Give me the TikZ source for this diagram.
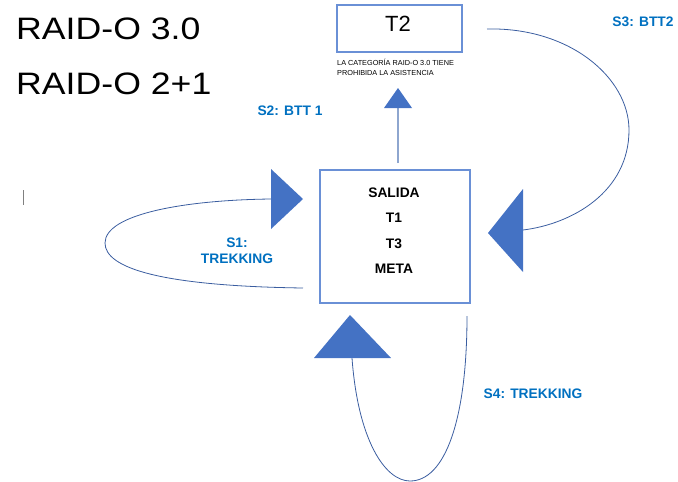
\documentclass[tikz,border=0pt]{standalone}
\usepackage{fontspec}
\setmainfont{Liberation Sans}
\definecolor{trifill}{HTML}{4472C4}
\definecolor{boxline}{HTML}{6A90D6}
\definecolor{curveline}{HTML}{3A5DA0}
\definecolor{stemline}{HTML}{8EA6CF}
\definecolor{lbl}{HTML}{0070C0}
\tikzset{
  boxnode/.style={draw=boxline, line width=1.3pt, inner sep=0pt},
  loopline/.style={draw=curveline, line width=0.8pt},
  tri/.style={fill=trifill, draw=none},
  titletext/.style={anchor=base west, inner sep=0pt, xscale=1.15, font=\fontsize{31}{34}\selectfont},
  steplabel/.style={text=lbl, font=\bfseries\fontsize{13.8}{16}\selectfont, align=center, inner sep=0pt},
}
\begin{document}
\begin{tikzpicture}[x=1pt,y=-1pt]
\useasboundingbox (0,0) rectangle (678,482);
% titles
\node[titletext] (title1) at (16,39) {RAID-O 3.0};
\node[titletext] (title2) at (16,94) {RAID-O 2+1};
% small mark
\coordinate (marktop) at (23,190);
\coordinate (markbot) at (23,205);
\draw[gray, line width=0.9pt] (marktop) -- (markbot);
% T2 box
\node[boxnode, minimum width=125pt, minimum height=47pt] (t2) at (399.5,28.5) {};
\node[inner sep=0pt, font=\fontsize{22}{24}\selectfont] (t2txt) at (398,24) {T2};
\node[anchor=north west, inner sep=0pt, align=left, font=\fontsize{7.3}{10}\selectfont] (note) at (337,59) {LA CATEGORÍA RAID-O 3.0 TIENE\\PROHIBIDA LA ASISTENCIA};
% main box
\node[boxnode, minimum width=150pt, minimum height=133pt] (main) at (395,236.5) {};
\node[inner sep=0pt, align=center, font=\bfseries\fontsize{13.8}{25.5}\selectfont] (maintxt) at (394,230.5) {SALIDA\\T1\\T3\\META};
% up arrow to T2
\coordinate (stembot) at (398,163);
\coordinate (stemtop) at (398,108);
\draw[stemline, line width=1.1pt] (stembot) -- (stemtop);
\fill[tri] (398,88) -- (384,108) -- (412,108) -- cycle;
\node[steplabel] (s2) at (290,111) {S2: BTT 1};
% left loop S1
\coordinate (s1start) at (303,288);
\coordinate (s1end) at (271,199);
\draw[loopline] (s1start) .. controls (160,286) and (105,268) .. (105,243) .. controls (105,214) and (185,200) .. (s1end);
\fill[tri] (271,169) -- (271,229) -- (303,199) -- cycle;
\node[steplabel] (s1) at (237,251) {S1:\\TREKKING};
% right loop S3
\coordinate (s3start) at (487,29);
\coordinate (s3end) at (523,230);
\draw[loopline] (s3start) .. controls (570,27) and (629,78) .. (629,130) .. controls (629,192) and (572,224) .. (s3end);
\fill[tri] (488,233) -- (523,189) -- (523,272) -- cycle;
\node[steplabel] (s3) at (643,22) {S3: BTT2};
% bottom loop S4
\coordinate (s4start) at (467,316);
\coordinate (s4end) at (352,358);
\draw[loopline] (s4start) .. controls (467,420) and (445,481) .. (410,481) .. controls (385,481) and (358,440) .. (s4end);
\fill[tri] (350,315) -- (314,358) -- (391,358) -- cycle;
\node[steplabel] (s4) at (533,394) {S4: TREKKING};
\end{tikzpicture}
\end{document}
